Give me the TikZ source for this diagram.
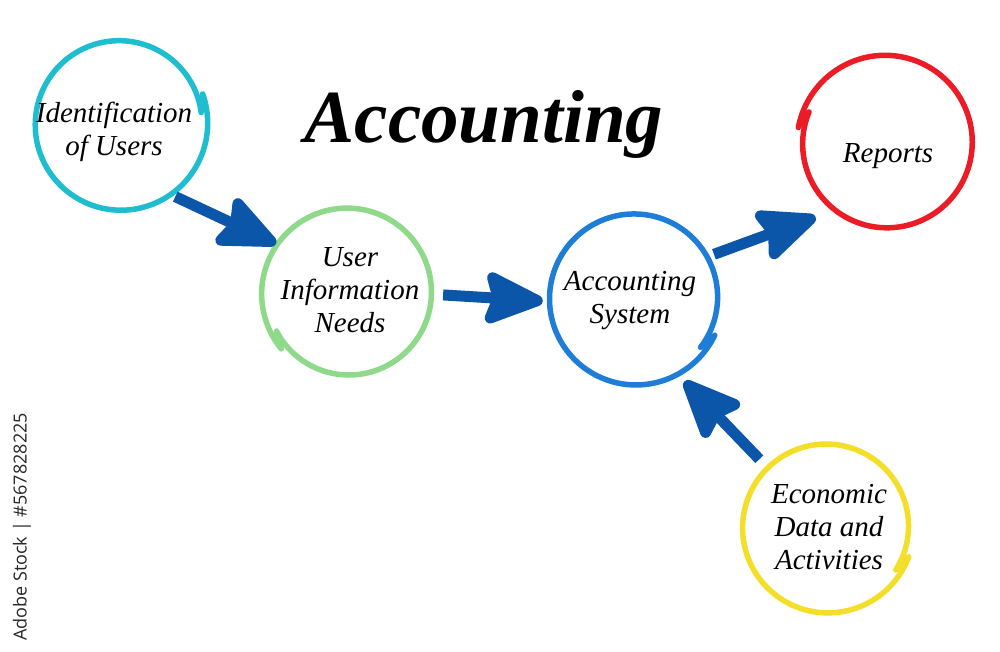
\documentclass[tikz,border=0pt]{standalone}
\usepackage{fontspec}
\setmainfont{Liberation Serif}
\newfontfamily\wmfont{Open Sans}
\usetikzlibrary{arrows.meta}
\definecolor{ccyan}{HTML}{1FBDD0}
\definecolor{cgreen}{HTML}{8FD98A}
\definecolor{cblue}{HTML}{1E7DD6}
\definecolor{cred}{HTML}{EC1C26}
\definecolor{cyellow}{HTML}{F3DF2A}
\definecolor{arrowblue}{HTML}{0B56A8}
\newcommand\brushring[6]{% cx, cy, r, start angle (screen, clockwise), dr, colour
  \draw[#6, line width=5.5pt, line cap=round]
    plot[domain=#4:#4+372, samples=150, smooth]
    ({#1+(#3+#5-2*#5*(\x-#4)/372)*cos(\x)}, {#2+(#3+#5-2*#5*(\x-#4)/372)*sin(\x)});}
\tikzset{
  ring/.style={circle, minimum size=174pt, inner sep=0pt, align=center,
    font=\itshape\fontsize{29}{33}\selectfont},
  bigarrow/.style={arrowblue, line width=11pt,
    -{Stealth[length=68pt, width=58pt, inset=9pt, round=false]}},
  title/.style={font=\bfseries\itshape\fontsize{75}{80}\selectfont},
  wm/.style={font=\wmfont\fontsize{18}{20}\selectfont, text=black!85, rotate=90}
}
\begin{document}
\begin{tikzpicture}[x=1pt, y=-1pt]
\useasboundingbox (0,0) rectangle (1000,652);
% rings
\brushring{120}{124}{85}{-20}{3}{ccyan}
\brushring{348}{293}{84}{140}{3}{cgreen}
\brushring{635}{298}{85}{25}{3}{cblue}
\brushring{886}{143}{86}{190}{3}{cred}
\brushring{827}{527}{84}{20}{3}{cyellow}
% nodes
\node[ring] (id)  at (114,132) {Identification\\of Users};
\node[ring] (uin) at (350,290) {User\\Information\\Needs};
\node[ring] (acc) at (630,301) {Accounting\\System};
\node[ring] (rep) at (888,156) {Reports};
\node[ring] (eco) at (829,527) {Economic\\Data and\\Activities};
\node[title] (ttl) at (484,124) {Accounting};
% arrows
\draw[bigarrow, shorten <=2pt, shorten >=0pt] (id.-47) -- (uin.148);
\draw[bigarrow, shorten <=6pt, shorten >=0pt] (uin.-3) -- (acc.180);
\draw[bigarrow, shorten <=9pt, shorten >=8pt] (acc.30) -- (rep.222);
\draw[bigarrow, shorten <=10pt, shorten >=10pt] (eco.136) -- (acc.-57);
% watermark
\node[wm] (wmk) at (22,527) {Adobe Stock | \#567828225};
\end{tikzpicture}
\end{document}
